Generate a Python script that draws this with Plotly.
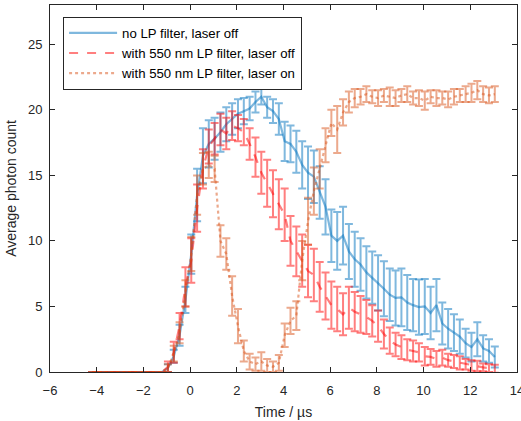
import plotly.graph_objects as go

# Time bins (µs)
time_us = [-4.2, -3.95, -3.7, -3.45, -3.2, -2.95, -2.7, -2.45, -2.2, -1.95,
           -1.7, -1.45, -1.2, -0.95, -0.7, -0.45, -0.2, 0.05, 0.3, 0.55,
           0.8, 1.05, 1.3, 1.55, 1.8, 2.05, 2.3, 2.55, 2.8, 3.05,
           3.3, 3.55, 3.8, 4.05, 4.3, 4.55, 4.8, 5.05, 5.3, 5.55,
           5.8, 6.05, 6.3, 6.55, 6.8, 7.05, 7.3, 7.55, 7.8, 8.05,
           8.3, 8.55, 8.8, 9.05, 9.3, 9.55, 9.8, 10.05, 10.3, 10.55,
           10.8, 11.05, 11.3, 11.55, 11.8, 12.05, 12.3, 12.55, 12.8, 13.05]

zeros13 = [0.0] * 13

# no LP filter, laser off
blue_mean = zeros13 + [0.3, 1.2, 2.8, 5.5, 9.0, 13.5, 16.5, 17.4, 17.8, 18.3,
                       18.9, 19.3, 19.7, 19.9, 20.1, 20.6, 21.0, 20.2, 19.9, 19.3,
                       17.6, 17.4, 16.8, 15.8, 15.2, 14.9, 13.7, 12.6, 10.4, 10.0,
                       10.4, 9.2, 8.6, 8.2, 7.6, 7.2, 6.8, 6.35, 5.9, 5.65,
                       5.7, 5.3, 5.1, 4.95, 5.0, 4.5, 5.1, 3.7, 3.3, 3.0,
                       2.7, 2.2, 1.9, 2.5, 1.8, 1.6, 1.15]
blue_err = zeros13 + [0.3, 0.5, 0.8, 1.0, 1.5, 2.0, 2.1, 1.8, 1.6, 1.5,
                      1.3, 1.2, 1.1, 1.0, 0.9, 0.8, 0.6, 0.8, 0.9, 1.2,
                      1.5, 1.4, 1.6, 1.8, 2.0, 2.0, 2.0, 2.1, 2.0, 2.2,
                      2.2, 2.1, 2.1, 2.0, 2.0, 2.0, 2.1, 2.1, 2.0, 2.1,
                      2.2, 2.1, 2.0, 2.1, 2.1, 2.0, 2.0, 1.6, 1.5, 1.4,
                      1.3, 1.1, 1.1, 1.3, 1.0, 0.9, 0.8]

# with 550 nm LP filter, laser off
red_mean = zeros13 + [0.4, 1.5, 3.5, 6.5, 8.5, 12.5, 15.5, 17.2, 17.8, 18.5,
                      18.2, 18.8, 18.6, 18.3, 17.4, 16.4, 15.2, 14.4, 13.6, 12.8,
                      12.0, 10.0, 9.2, 8.5, 7.7, 7.4, 6.5, 5.8, 5.1, 4.8,
                      4.4, 4.9, 4.6, 4.4, 4.2, 3.9, 3.5, 2.9, 2.4, 2.1,
                      1.9, 1.7, 1.6, 1.5, 1.2, 1.15, 1.0, 1.1, 0.9, 0.8,
                      0.7, 0.6, 0.5, 0.45, 0.35, 0.3, 0.25]
red_err = zeros13 + [0.4, 0.8, 1.0, 1.5, 1.7, 1.8, 1.5, 1.3, 1.2, 1.2,
                     1.2, 1.1, 1.0, 1.0, 1.2, 1.5, 1.6, 1.8, 1.8, 1.9,
                     2.0, 1.9, 1.9, 2.0, 2.0, 2.0, 1.9, 1.8, 1.8, 1.7,
                     1.6, 1.6, 1.5, 1.4, 1.3, 1.2, 1.2, 1.1, 1.0, 0.9,
                     0.9, 0.8, 0.8, 0.7, 0.7, 0.6, 0.6, 0.6, 0.5, 0.5,
                     0.5, 0.4, 0.4, 0.4, 0.3, 0.3, 0.3]

# with 550 nm LP filter, laser on
orange_mean = zeros13 + [0.3, 1.4, 3.0, 6.0, 9.0, 13.5, 15.5, 15.8, 15.5, 10.0,
                         9.0, 5.8, 3.5, 1.6, 0.8, 0.6, 0.8, 0.5, 0.4, 0.7,
                         2.8, 3.9, 4.3, 8.5, 11.5, 13.8, 15.5, 17.3, 19.0, 18.5,
                         19.8, 20.6, 20.9, 21.0, 21.2, 21.0, 20.9, 21.1, 21.0, 20.9,
                         21.1, 21.2, 20.9, 20.9, 20.7, 21.0, 20.9, 20.9, 20.8, 21.0,
                         21.1, 21.2, 21.3, 21.5, 21.2, 21.1, 21.2]
orange_err = zeros13 + [0.3, 0.6, 0.8, 1.0, 1.3, 1.5, 1.2, 1.0, 1.0, 1.2,
                        1.2, 1.5, 1.3, 0.8, 0.6, 0.5, 0.7, 0.5, 0.4, 0.6,
                        0.9, 1.0, 1.1, 1.5, 1.8, 1.8, 1.5, 1.3, 1.0, 1.8,
                        1.0, 0.8, 0.7, 0.6, 0.6, 0.5, 0.6, 0.5, 0.7, 0.6,
                        0.5, 0.6, 0.5, 0.6, 0.7, 0.5, 0.6, 0.5, 0.6, 0.6,
                        0.5, 0.6, 0.7, 0.7, 0.6, 0.6, 0.6]

series = [
    ("no LP filter, laser off", blue_mean, blue_err, "rgba(0,114,189,0.5)", "solid"),
    ("with 550 nm LP filter, laser off", red_mean, red_err, "rgba(255,0,0,0.5)", "dash"),
    ("with 550 nm LP filter, laser on", orange_mean, orange_err, "rgba(217,83,25,0.5)", "dot"),
]

FONT = "Liberation Sans, Arial, sans-serif"

fig = go.Figure()
for name, m, e, col, dash in series:
    fig.add_trace(go.Scatter(
        x=time_us, y=m, name=name, mode="lines",
        line=dict(color=col, width=2.2, dash=dash),
        error_y=dict(type="data", array=e, visible=True, color=col, thickness=2, width=4),
    ))

axis_common = dict(
    showline=True, linecolor="#262626", linewidth=1, mirror="ticks",
    ticks="inside", ticklen=5, tickcolor="#262626", tickwidth=1,
    showgrid=False, zeroline=False, ticklabeloverflow="allow", automargin=False,
    tickfont=dict(family=FONT, size=13, color="#262626"),
)

fig.update_xaxes(range=[-6, 14], tickmode="array", tickvals=[-6, -4, -2, 0, 2, 4, 6, 8, 10, 12, 14],
                 ticklabelstandoff=6,
                 title=dict(text="Time / µs", font=dict(family=FONT, size=14, color="#262626"), standoff=10),
                 **axis_common)
fig.update_yaxes(range=[0, 28], tickmode="array", tickvals=[0, 5, 10, 15, 20, 25],
                 ticklabelstandoff=4,
                 title=dict(text="Average photon count", font=dict(family=FONT, size=14, color="#262626"), standoff=8),
                 **axis_common)

fig.update_layout(
    width=521, height=421,
    margin=dict(l=50, r=4, t=5, b=49),
    plot_bgcolor="white", paper_bgcolor="white",
    legend=dict(x=0.028, y=0.968, xanchor="left", yanchor="top",
                bgcolor="white", bordercolor="#262626", borderwidth=1,
                font=dict(family=FONT, size=13.2, color="black"),
                tracegroupgap=0, itemwidth=48),
    showlegend=True,
)

fig.write_html("out.html")
